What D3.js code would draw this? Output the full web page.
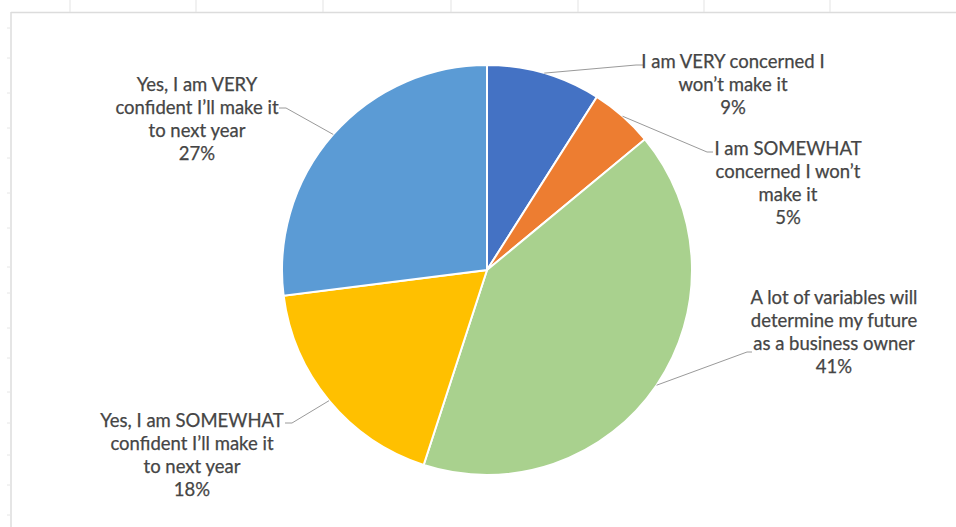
<!DOCTYPE html>
<html lang="en">
<head>
    <meta charset="UTF-8">
    <title>Pie - business owner confidence</title>
    <script src="https://cdn.jsdelivr.net/npm/d3@7/dist/d3.min.js"></script>
    <style>
        body { margin: 0; background: #fff; }
        text { font-family: Lato, "Open Sans", sans-serif; }
    </style>
</head>
<body>
    <script>
        // data
        var categories = [
            "I am VERY concerned I won’t make it",
            "I am SOMEWHAT concerned I won’t make it",
            "A lot of variables will determine my future as a business owner",
            "Yes, I am SOMEWHAT confident I’ll make it to next year",
            "Yes, I am VERY confident I’ll make it to next year"
        ];
        var labelLines = [
            ["I am VERY concerned I", "won’t make it"],
            ["I am SOMEWHAT", "concerned I won’t", "make it"],
            ["A lot of variables will", "determine my future", "as a business owner"],
            ["Yes, I am SOMEWHAT", "confident I’ll make it", "to next year"],
            ["Yes, I am VERY", "confident I’ll make it", "to next year"]
        ];
        var values = [9, 5, 41, 18, 27];
        var colors = ["#4472C4", "#ED7D31", "#A9D18E", "#FFC000", "#5B9BD5"];

        // where each label sits (centre x, first baseline) and the leader's elbow / end
        var labelLayout = [
            { x: 733, y: 68,  elbow: [636, 65],  end: [643, 65] },
            { x: 788, y: 155, elbow: [707, 152], end: [713, 152] },
            { x: 834, y: 304, elbow: [747, 352], end: [752, 352] },
            { x: 192, y: 427, elbow: [292, 423], end: [285, 423] },
            { x: 197, y: 91,  elbow: [286, 108], end: [279, 108] }
        ];

        var width = 956;
        var height = 527;
        var cx = 487, cy = 270, radius = 205;
        var lineH = 23;

        var svg = d3.select("body").append("svg").attr("width", width).attr("height", height);

        // faint spreadsheet frame behind the chart
        var grid = svg.append("g");
        grid.append("line").attr("x1", 11).attr("x2", width).attr("y1", 12.5).attr("y2", 12.5)
            .attr("stroke", "#dcdcdc").attr("stroke-width", 1.5);
        grid.append("line").attr("x1", 11).attr("x2", 11).attr("y1", 12).attr("y2", height)
            .attr("stroke", "#dcdcdc").attr("stroke-width", 1.5);
        var colTicks = [70, 196, 323, 451, 578, 704, 830];
        var rowTicks = [28, 58, 93, 128, 158, 193, 228, 267, 293, 328, 358, 392, 423, 455, 485, 515];
        grid.selectAll(".ct").data(colTicks).enter().append("line")
            .attr("x1", function(d){ return d; }).attr("x2", function(d){ return d; })
            .attr("y1", 0).attr("y2", 12).attr("stroke", "#e3e3e3");
        grid.selectAll(".rt").data(rowTicks).enter().append("line")
            .attr("x1", 7).attr("x2", 11)
            .attr("y1", function(d){ return d; }).attr("y2", function(d){ return d; })
            .attr("stroke", "#e6e6e6");

        var pie = d3.pie().sort(null).value(function(d){ return d; });
        var arcs = pie(values);
        var arc = d3.arc().innerRadius(0).outerRadius(radius);
        var rim = d3.arc().innerRadius(radius).outerRadius(radius);

        var g = svg.append("g").attr("transform", "translate(" + cx + "," + cy + ")");

        g.selectAll("path")
            .data(arcs)
            .enter()
            .append("path")
            .attr("d", arc)
            .attr("fill", function(d, i){ return colors[i]; })
            .attr("stroke", "#fff")
            .attr("stroke-width", 2);

        // leader lines
        svg.selectAll("polyline")
            .data(arcs)
            .enter()
            .append("polyline")
            .attr("points", function(d, i){
                var c = rim.centroid(d);
                var L = labelLayout[i];
                return [[cx + c[0], cy + c[1]], L.elbow, L.end].map(function(p){ return p.join(","); }).join(" ");
            })
            .attr("fill", "none")
            .attr("stroke", "#9a9a9a")
            .attr("stroke-width", 1);

        // labels
        var labels = svg.selectAll(".lbl")
            .data(arcs)
            .enter()
            .append("text")
            .attr("class", "lbl")
            .attr("text-anchor", "middle")
            .attr("font-size", 18.5)
            .attr("fill", "#454545")
            .attr("stroke", "#454545")
            .attr("stroke-width", 0.25);

        labels.each(function(d, i){
            var t = d3.select(this);
            var L = labelLayout[i];
            var lines = labelLines[i].concat([d.data + "%"]);
            lines.forEach(function(s, k){
                t.append("tspan").attr("x", L.x).attr("y", L.y + k * lineH).text(s);
            });
        });
    </script>
</body>
</html>
